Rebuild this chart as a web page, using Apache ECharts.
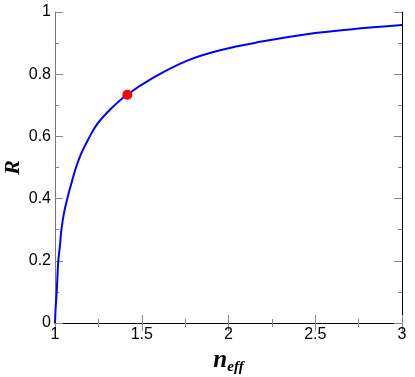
<!DOCTYPE html>
<html>
<head>
<meta charset="utf-8">
<script src="https://cdn.jsdelivr.net/npm/echarts@6/dist/echarts.min.js"></script>
<style>
  html, body { margin: 0; padding: 0; background: #fff; }
  #chart { width: 415px; height: 377px; }
</style>
</head>
<body>
<div id="chart"></div>
<script>
// curve
var nEff   = [1.000, 1.003, 1.0096, 1.014, 1.019, 1.028, 1.037, 1.052, 1.071, 1.095, 1.121, 1.152, 1.192, 1.244, 1.321, 1.413, 1.567, 1.759, 1.951, 2.182, 2.470, 2.700, 3.000];
var rValue = [0.000, 0.041, 0.100,  0.148, 0.200, 0.246, 0.300, 0.354, 0.400, 0.450, 0.500, 0.546, 0.591, 0.640, 0.688, 0.733, 0.789, 0.843, 0.877, 0.904, 0.930, 0.944, 0.958];
// red marker
var markN = [1.417];
var markR = [0.734];

var xTicks = ['1', '1.5', '2', '2.5', '3'];

var myChart = echarts.init(document.getElementById('chart'));

var tickStyle = { color: '#888', width: 1 };
var font = 'Liberation Sans, Arial, sans-serif';
var serif = 'Liberation Serif, Times New Roman, serif';

var option = {
    animation: false,
    grid: { left: 55, right: 13, top: 12, bottom: 54, outerBoundsMode: 'none', containLabel: false },
    xAxis: [
        {
            type: 'value', min: 1, max: 3, interval: 0.5,
            axisLine: { lineStyle: { color: '#000', width: 1 } },
            axisTick: { inside: true, length: 8, lineStyle: tickStyle },
            minorTick: { show: true, splitNumber: 2, length: 4, lineStyle: tickStyle },
            splitLine: { show: false },
            axisLabel: {
                color: '#000', fontFamily: font, fontSize: 16, margin: 4,
                formatter: function (v) { return xTicks[Math.round((v - 1) / 0.5)]; }
            },
            name: '{n|n}{s|eff}',
            nameLocation: 'middle',
            nameGap: 21,
            nameTextStyle: {
                rich: {
                    n: { fontFamily: serif, fontStyle: 'italic', fontWeight: 'bold', fontSize: 25, color: '#000' },
                    s: { fontFamily: serif, fontStyle: 'italic', fontWeight: 'bold', fontSize: 15, color: '#000', padding: [14, 0, 0, 0] }
                }
            }
        },
        {
            type: 'value', min: 1, max: 3, interval: 0.5, position: 'top',
            axisLine: { show: true, lineStyle: { color: '#000', width: 1 } },
            axisTick: { show: true, inside: true, length: 8, lineStyle: tickStyle },
            minorTick: { show: true, splitNumber: 2, length: 4, lineStyle: tickStyle },
            splitLine: { show: false },
            axisLabel: { show: false }
        }
    ],
    yAxis: [
        {
            type: 'value', min: 0, max: 1, interval: 0.2,
            axisLine: { show: true, lineStyle: { color: '#777', width: 1 } },
            axisTick: { show: true, inside: true, length: 8, lineStyle: tickStyle },
            minorTick: { show: true, splitNumber: 2, length: 4, lineStyle: tickStyle },
            splitLine: { show: false },
            axisLabel: { color: '#000', fontFamily: font, fontSize: 16, margin: 4 },
            name: 'R',
            nameLocation: 'middle',
            nameGap: 31,
            nameMoveOverlap: false,
            nameTextStyle: { fontFamily: serif, fontStyle: 'italic', fontWeight: 'bold', fontSize: 22, color: '#000' }
        },
        {
            type: 'value', min: 0, max: 1, interval: 0.2, position: 'right',
            axisLine: { show: true, lineStyle: { color: '#000', width: 1 } },
            axisTick: { show: true, inside: true, length: 8, lineStyle: tickStyle },
            minorTick: { show: true, splitNumber: 2, length: 4, lineStyle: tickStyle },
            splitLine: { show: false },
            axisLabel: { show: false }
        }
    ],
    series: [
        {
            type: 'line',
            data: nEff.map(function (n, i) { return [n, rValue[i]]; }),
            smooth: 0.4,
            showSymbol: false,
            lineStyle: { color: '#0000ff', width: 2 },
            z: 2
        },
        {
            type: 'scatter',
            data: markN.map(function (n, i) { return [n, markR[i]]; }),
            symbolSize: 10,
            itemStyle: { color: '#ff0000', opacity: 1 },
            z: 3
        }
    ]
};

myChart.setOption(option);
window.addEventListener('resize', function () {
    myChart.resize();
});
</script>
</body>
</html>
